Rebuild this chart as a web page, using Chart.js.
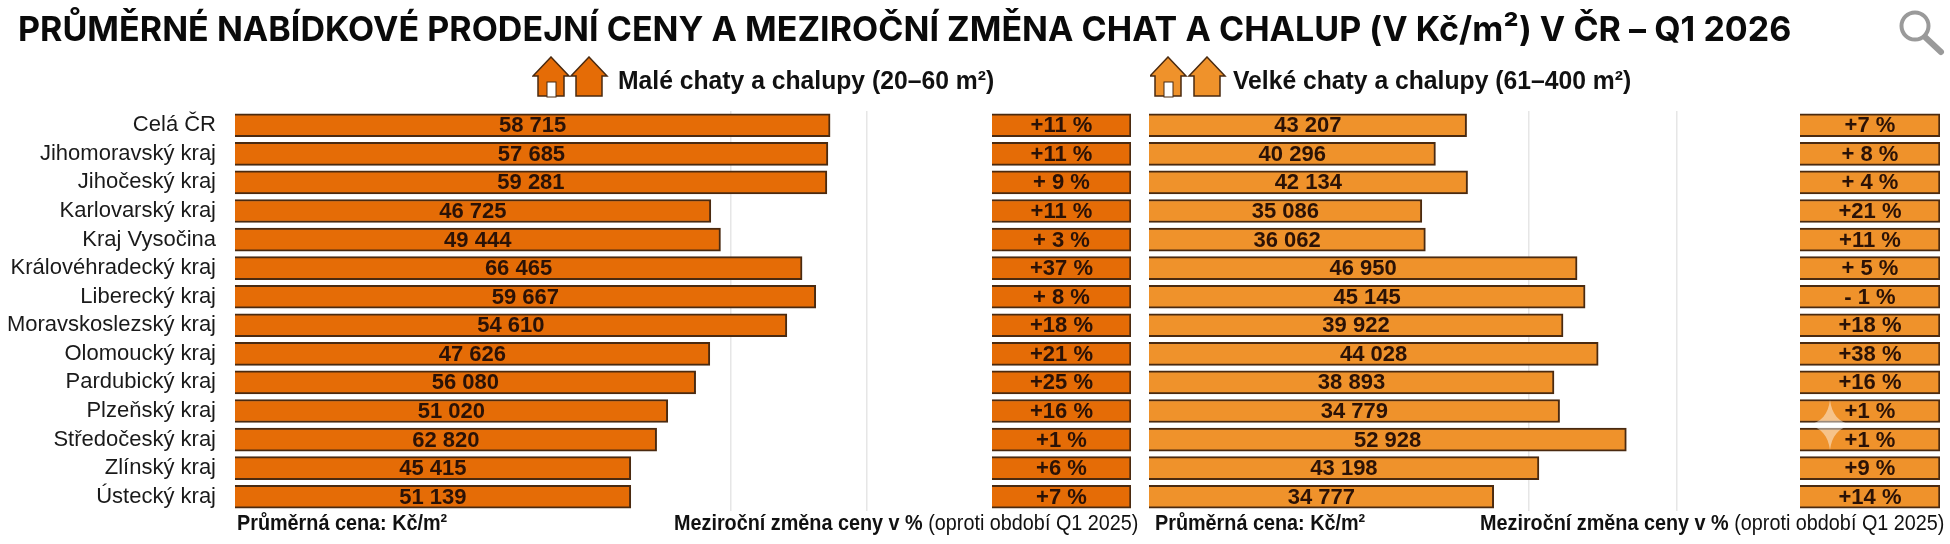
<!DOCTYPE html>
<html lang="cs">
<head>
<meta charset="utf-8">
<title>Chaty a chalupy Q1 2026</title>
<script src="https://cdn.jsdelivr.net/npm/chart.js@4"></script>
<style>
  html, body { margin: 0; background: #fff; }
  body { position: relative; width: 1950px; height: 544px; overflow: hidden; font-family: "Liberation Sans", Arial, sans-serif; color: #111; }
  canvas { position: absolute; top: 0; }
  svg { position: absolute; }
  .txt { position: absolute; white-space: nowrap; transform-origin: left center; }
  #title { left: 18px; top: 8px; font: 700 34px Inter, sans-serif; letter-spacing: 0.04px; color: #0a0a0a; }
  .head { top: 66px; font-size: 26px; font-weight: bold; line-height: 28px; transform: scaleX(0.95); }
  .foot { top: 511px; font-size: 22px; line-height: 24px; font-weight: bold; transform: scaleX(0.9); }
  .foot span { font-weight: normal; }
</style>
</head>
<body>
<canvas id="smallPrice" style="left:0" width="985" height="544"></canvas>
<canvas id="smallChange" style="left:989px" width="145" height="544"></canvas>
<canvas id="bigPrice" style="left:1146px" width="644" height="544"></canvas>
<canvas id="bigChange" style="left:1797px" width="146" height="544"></canvas>

<div class="txt" id="title">PRŮMĚRNÉ NABÍDKOVÉ PRODEJNÍ CENY A MEZIROČNÍ ZMĚNA CHAT A CHALUP (V Kč/m²) V ČR – Q1 2026</div>
<div class="txt head" style="left:618px">Malé chaty a chalupy (20–60 m²)</div>
<div class="txt head" style="left:1233px">Velké chaty a chalupy (61–400 m²)</div>
<div class="txt foot" style="left:237px">Průměrná cena: Kč/m²</div>
<div class="txt foot" style="left:674px">Meziroční změna ceny v % <span>(oproti období Q1 2025)</span></div>
<div class="txt foot" style="left:1155px">Průměrná cena: Kč/m²</div>
<div class="txt foot" style="left:1480px">Meziroční změna ceny v % <span>(oproti období Q1 2025)</span></div>

<svg width="0" height="0">
  <defs>
    <g id="roof"><path d="M18 1 L36 20 L31 20 L31 40 L5 40 L5 20 L0 20 Z" stroke="#4a2a10" stroke-width="1.5" stroke-linejoin="miter"/></g>
  </defs>
</svg>
<svg style="left:532px;top:56px" width="78" height="42" fill="#e56c06">
  <use href="#roof" x="1"/><use href="#roof" x="39"/>
  <rect x="15" y="26" width="9" height="15" fill="#fff" stroke="#4a2a10"/>
</svg>
<svg style="left:1150px;top:56px" width="78" height="42" fill="#ef922b">
  <use href="#roof" x="0"/><use href="#roof" x="39"/>
  <rect x="14" y="26" width="9" height="15" fill="#fff" stroke="#4a2a10"/>
</svg>
<!-- magnifier -->
<svg style="left:1898px;top:8px" width="48" height="48" fill="none" stroke="#9a9a9a">
  <circle cx="17" cy="18" r="13.5" stroke-width="4"/>
  <path d="M27 29 L43 44" stroke-width="6" stroke-linecap="round"/>
</svg>
<!-- sparkle over the last boxes -->
<svg style="left:1808px;top:400px" width="44" height="50">
  <path d="M22 0 C24 14 30 22 44 25 C30 28 24 36 22 50 C20 36 14 28 0 25 C14 22 20 14 22 0 Z" fill="#fff" fill-opacity="0.45"/>
</svg>

<script>
const regions = ['Celá ČR', 'Jihomoravský kraj', 'Jihočeský kraj', 'Karlovarský kraj', 'Kraj Vysočina', 'Královéhradecký kraj', 'Liberecký kraj', 'Moravskoslezský kraj', 'Olomoucký kraj', 'Pardubický kraj', 'Plzeňský kraj', 'Středočeský kraj', 'Zlínský kraj', 'Ústecký kraj'];

// bar lengths as drawn in the picture, they do not follow the printed prices
const smallBars = [58715, 58500, 58400, 46950, 47900, 55950, 57300, 54450, 46850, 45450, 42700, 41600, 39050, 39050];
const smallPrices = ['58 715', '57 685', '59 281', '46 725', '49 444', '66 465', '59 667', '54 610', '47 626', '56 080', '51 020', '62 820', '45 415', '51 139'];
const smallChanges = ['+11 %', '+11 %', '+ 9 %', '+11 %', '+ 3 %', '+37 %', '+ 8 %', '+18 %', '+21 %', '+25 %', '+16 %', '+1 %', '+6 %', '+7 %'];
const smallTicks = [48930, 62375];

const bigBars = [43207, 38970, 43340, 37120, 37600, 58240, 59330, 56330, 61110, 55100, 55860, 64940, 53050, 46900];
const bigPrices = ['43 207', '40 296', '42 134', '35 086', '36 062', '46 950', '45 145', '39 922', '44 028', '38 893', '34 779', '52 928', '43 198', '34 777'];
const bigChanges = ['+7 %', '+ 8 %', '+ 4 %', '+21 %', '+11 %', '+ 5 %', '- 1 %', '+18 %', '+38 %', '+16 %', '+1 %', '+1 %', '+9 %', '+14 %'];
const bigTicks = [51615, 71783];

// change boxes all have the same length
const changeBoxes = [1, 1, 1, 1, 1, 1, 1, 1, 1, 1, 1, 1, 1, 1];

const smallColor = '#e56c06';
const bigColor = '#ef922b';
const edgeColor = '#4a2a10';
const labelFont = '"Liberation Sans", Arial, sans-serif';

// prints the texts in the middle of each bar
const barText = {
    id: 'barText',
    afterDatasetsDraw(chart) {
        const ctx = chart.ctx;
        const texts = chart.config.options.barTexts;
        ctx.save();
        ctx.font = 'bold 22px ' + labelFont;
        ctx.fillStyle = '#2b1206';
        ctx.textAlign = 'center';
        ctx.textBaseline = 'middle';
        chart.getDatasetMeta(0).data.forEach((bar, i) => {
            ctx.fillText(texts[i], (bar.x + bar.base) / 2, bar.y + 1);
        });
        ctx.restore();
    }
};

function drawPanel(id, values, texts, color, xMax, ticks, showNames, padSide) {
    new Chart(document.getElementById(id), {
        type: 'bar',
        plugins: [barText],
        data: {
            labels: regions,
            datasets: [{
                data: values,
                backgroundColor: color,
                borderColor: edgeColor,
                borderWidth: 2,
                barThickness: 23
            }]
        },
        options: {
            barTexts: texts,
            indexAxis: 'y',
            responsive: false,
            animation: false,
            layout: { padding: { top: 111, bottom: 33, left: padSide, right: padSide } },
            plugins: { legend: { display: false }, tooltip: { enabled: false } },
            scales: {
                x: {
                    min: 0,
                    max: xMax,
                    afterBuildTicks: scale => { scale.ticks = ticks.map(v => ({ value: v })); },
                    afterFit: scale => { scale.height = 0; },
                    ticks: { display: false },
                    border: { display: false },
                    grid: { display: ticks.length > 0, color: '#e6e6e6', lineWidth: 1.5, drawTicks: false }
                },
                y: {
                    display: showNames,
                    afterFit: scale => { scale.width = showNames ? 235 : 0; },
                    grid: { display: false, drawTicks: false },
                    border: { display: false },
                    ticks: { autoSkip: false, padding: 19, color: '#1a1a1a', font: { family: labelFont, size: 22 } }
                }
            }
        }
    });
}

drawPanel('smallPrice', smallBars, smallPrices, smallColor, 74000, smallTicks, true, 0);
drawPanel('smallChange', changeBoxes, smallChanges, smallColor, 1, [], false, 3);
drawPanel('bigPrice', bigBars, bigPrices, bigColor, 86800, bigTicks, false, 3);
drawPanel('bigChange', changeBoxes, bigChanges, bigColor, 1, [], false, 3);
</script>
</body>
</html>
